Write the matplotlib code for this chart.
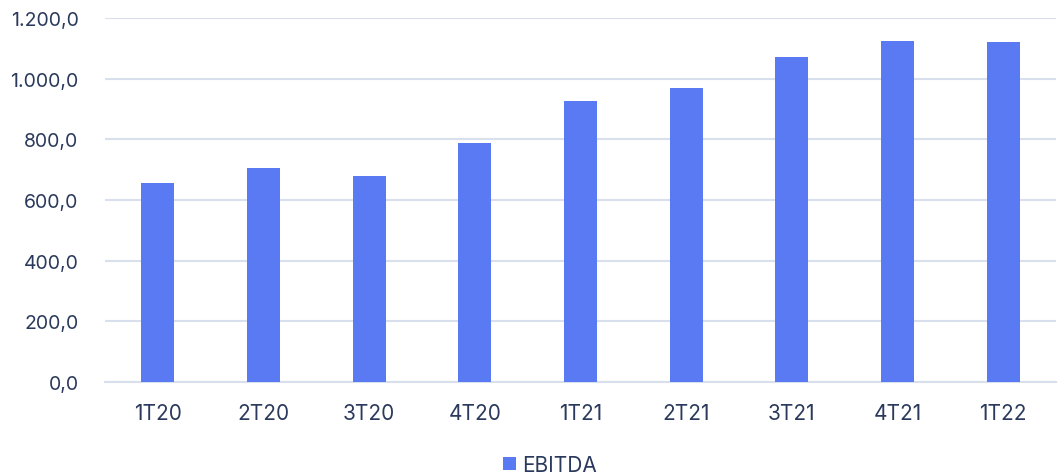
import matplotlib
matplotlib.use("Agg")
from matplotlib import pyplot as plt
from matplotlib.ticker import FuncFormatter

BAR_COLOR = "#5A7AF4"
GRID_COLOR = "#D8E0EE"
TEXT_COLOR = "#2B3A5C"

quarters = ["1T20", "2T20", "3T20", "4T20", "1T21", "2T21", "3T21", "4T21", "1T22"]
ebitda = [656, 706, 679, 788, 926, 969, 1071, 1124, 1121]
y_ticks = [0, 200, 400, 600, 800, 1000, 1200]


def br_format(v, _pos):
    s = "{:,.1f}".format(v)
    return s.replace(",", "X").replace(".", ",").replace("X", ".")


def main():
    plt.rcParams["font.family"] = ["Inter", "DejaVu Sans"]
    fig = plt.figure(figsize=(10.64, 4.77), dpi=100)
    ax = fig.add_axes([105 / 1064, 94 / 477, 951 / 1064, 364 / 477])

    x = range(len(quarters))
    ax.bar(x, ebitda, width=0.31, color=BAR_COLOR, label="EBITDA", zorder=3)

    ax.set_xlim(-0.5, len(quarters) - 0.5)
    ax.set_ylim(0, 1200)
    ax.set_yticks(y_ticks)
    ax.yaxis.set_major_formatter(FuncFormatter(br_format))
    ax.set_xticks(list(x))
    ax.set_xticklabels(quarters)

    ax.grid(axis="y", color=GRID_COLOR, linewidth=1.5, zorder=0)
    for side in ["top", "right", "left"]:
        ax.spines[side].set_visible(False)
    ax.spines["bottom"].set_color(GRID_COLOR)
    ax.spines["bottom"].set_linewidth(1.5)
    ax.tick_params(axis="both", length=0, colors=TEXT_COLOR)
    ax.tick_params(axis="x", pad=15, labelsize=15)
    ax.tick_params(axis="y", pad=19, labelsize=14)

    fig.legend(loc="center", bbox_to_anchor=(550 / 1064, 1 - 466 / 477), frameon=False,
               fontsize=15, handlelength=0.6, handleheight=0.6, handletextpad=0.3,
               labelcolor=TEXT_COLOR)

    fig.savefig("out.png", dpi=100)


if __name__ == '__main__':
    main()
